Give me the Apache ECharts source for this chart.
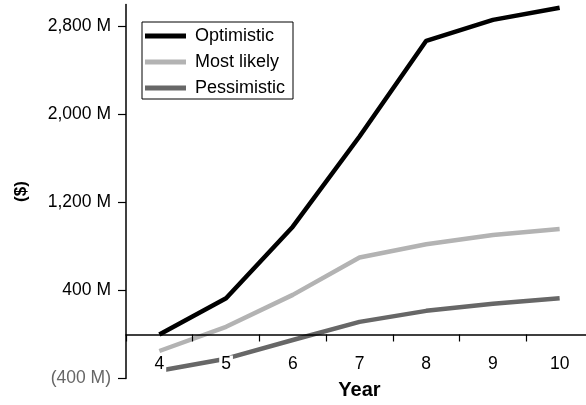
<!doctype html>
<html>

<head>
	<meta charset="utf-8">
	<title></title>
	<script src="https://cdn.jsdelivr.net/npm/echarts@6/dist/echarts.min.js"></script>
	<style>
		body { margin: 0; background: #fff; }
	</style>
</head>

<body>
	<div id="main" style="width: 586px;height:405px;"></div>
	<script type="text/javascript">
		// years on the x axis
		var years = ['4', '5', '6', '7', '8', '9', '10'];
		// scenario values, in millions of $
		var optimistic = [0, 330, 980, 1800, 2670, 2860, 2970];
		var mostLikely = [-150, 70, 360, 700, 820, 905, 960];
		var pessimistic = [-330, -220, -50, 115, 215, 280, 330];
		// labelled ticks on the value axis
		var yTicks = [-400, 400, 1200, 2000, 2800];

		var font = "'Liberation Sans', Arial, Helvetica, sans-serif";

		function fmt(v) {
			var s = Math.abs(v).toLocaleString('en-US') + ' M';
			return v < 0 ? '(' + s + ')' : s;
		}

		var myChart = echarts.init(document.getElementById('main'));

		option = {
			animation: false,
			backgroundColor: '#fff',
			textStyle: { fontFamily: font },
			grid: { left: 126, top: 4.5, right: -7, bottom: 26.5, containLabel: false, outerBoundsMode: 'none' },
			legend: {
				orient: 'vertical',
				left: 142,
				top: 22,
				borderColor: '#000',
				borderWidth: 1,
				padding: [5, 8, 2, 3],
				itemWidth: 41,
				itemHeight: 5,
				itemGap: 8,
				icon: 'rect',
				textStyle: { fontSize: 18, color: '#000', fontFamily: font, padding: [0, 0, 0, 4] },
				data: ['Optimistic', 'Most likely', 'Pessimistic']
			},
			xAxis: {
				type: 'category',
				data: years,
				boundaryGap: true,
				z: 5,
				name: 'Year',
				nameLocation: 'middle',
				nameGap: 2,
				nameTextStyle: { fontSize: 20, fontWeight: 'bold', color: '#000', fontFamily: font },
				axisLine: { onZero: true, lineStyle: { color: '#000', width: 1.5 } },
				axisTick: { show: true, length: 7, lineStyle: { color: '#000', width: 1.2 } },
				axisLabel: {
					margin: -23,
					fontSize: 17.5,
					color: '#000',
					fontFamily: font,
					backgroundColor: '#fff',
					padding: [0, 2]
				},
				splitLine: { show: false }
			},
			yAxis: {
				type: 'value',
				min: -400,
				max: 3000,
				name: '($)',
				nameLocation: 'middle',
				nameGap: 96,
				nameTextStyle: { fontSize: 17, fontWeight: 'bold', color: '#000', fontFamily: font },
				axisLine: { show: true, lineStyle: { color: '#000', width: 1.5 } },
				axisTick: { show: true, length: 8, customValues: yTicks, lineStyle: { color: '#000', width: 1.2 } },
				axisLabel: {
					margin: 15,
					fontSize: 17.5,
					fontFamily: font,
					customValues: yTicks,
					formatter: fmt,
					color: function (v) { return Number(v) < 0 ? '#666' : '#000'; }
				},
				splitLine: { show: false }
			},
			series: [
				{
					name: 'Optimistic',
					type: 'line',
					data: optimistic,
					symbol: 'none',
					color: '#000',
					lineStyle: { color: '#000', width: 4.5 }
				},
				{
					name: 'Most likely',
					type: 'line',
					data: mostLikely,
					symbol: 'none',
					color: '#b3b3b3',
					lineStyle: { color: '#b3b3b3', width: 4.5 }
				},
				{
					name: 'Pessimistic',
					type: 'line',
					data: pessimistic,
					symbol: 'none',
					color: '#676767',
					lineStyle: { color: '#676767', width: 4.5 }
				}
			]
		};

		myChart.setOption(option);
	</script>
</body>

</html>
